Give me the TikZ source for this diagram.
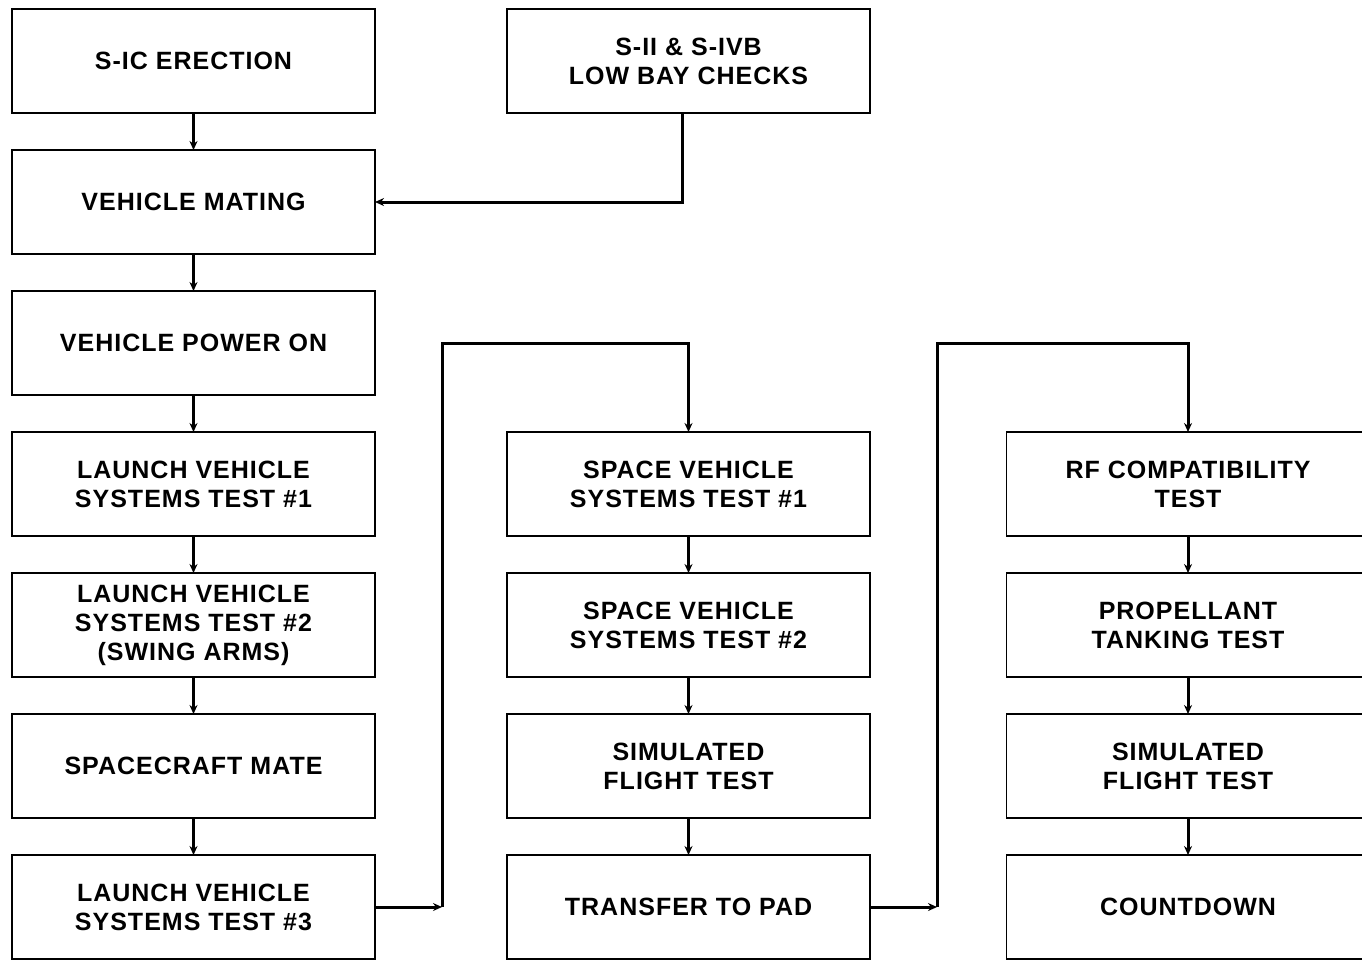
\documentclass[tikz,border=0pt]{standalone}
\usepackage{fontspec}
\setmainfont{Liberation Sans}[LetterSpace=4]
\usetikzlibrary{arrows.meta}
\begin{document}
\begin{tikzpicture}[x=1pt,y=-1pt,
  box/.style={draw=black,line width=1.6pt,minimum width=363pt,minimum height=104pt,inner sep=0pt,outer sep=0pt,align=center,font=\fontsize{25}{29}\selectfont\bfseries},
  conn/.style={draw=black,line width=3pt,-{Stealth[length=9pt,width=8pt]}}]
\clip (0,0) rectangle (1362,959);
\fill[white] (0,0) rectangle (1362,959);
% column 1
\node[box] (sic) at (193.5,61) {S-IC ERECTION};
\node[box] (mate) at (193.5,202) {VEHICLE MATING};
\node[box] (pwr) at (193.5,343) {VEHICLE POWER ON};
\node[box] (lv1) at (193.5,484) {LAUNCH VEHICLE\\SYSTEMS TEST \#1};
\node[box] (lv2) at (193.5,625) {LAUNCH VEHICLE\\SYSTEMS TEST \#2\\(SWING ARMS)};
\node[box] (sc) at (193.5,766) {SPACECRAFT MATE};
\node[box] (lv3) at (193.5,907) {LAUNCH VEHICLE\\SYSTEMS TEST \#3};
% column 2
\node[box] (sii) at (688.5,61) {S-II \& S-IVB\\LOW BAY CHECKS};
\node[box] (sv1) at (688.5,484) {SPACE VEHICLE\\SYSTEMS TEST \#1};
\node[box] (sv2) at (688.5,625) {SPACE VEHICLE\\SYSTEMS TEST \#2};
\node[box] (sim1) at (688.5,766) {SIMULATED\\FLIGHT TEST};
\node[box] (pad) at (688.5,907) {TRANSFER TO PAD};
% column 3
\node[box] (rf) at (1188,484) {RF COMPATIBILITY\\TEST};
\node[box] (prop) at (1188,625) {PROPELLANT\\TANKING TEST};
\node[box] (sim2) at (1188,766) {SIMULATED\\FLIGHT TEST};
\node[box] (cd) at (1188,907) {COUNTDOWN};
% coordinates
\coordinate (c1) at (442,907);
\coordinate (c2) at (442,343);
\coordinate (c3) at (937,907);
\coordinate (c4) at (937,343);
% connectors
\draw[conn] (sic) -- (mate);
\draw[conn] (mate) -- (pwr);
\draw[conn] (pwr) -- (lv1);
\draw[conn] (lv1) -- (lv2);
\draw[conn] (lv2) -- (sc);
\draw[conn] (sc) -- (lv3);
\draw[conn] ([xshift=-6.5pt]sii.south) |- (mate.east);
\draw[conn] (lv3.east) -- (c1);
\draw[conn] (c1) -- (c2) -| (sv1.north);
\draw[conn] (sv1) -- (sv2);
\draw[conn] (sv2) -- (sim1);
\draw[conn] (sim1) -- (pad);
\draw[conn] (pad.east) -- (c3);
\draw[conn] (c3) -- (c4) -| (rf.north);
\draw[conn] (rf) -- (prop);
\draw[conn] (prop) -- (sim2);
\draw[conn] (sim2) -- (cd);
\end{tikzpicture}
\end{document}
